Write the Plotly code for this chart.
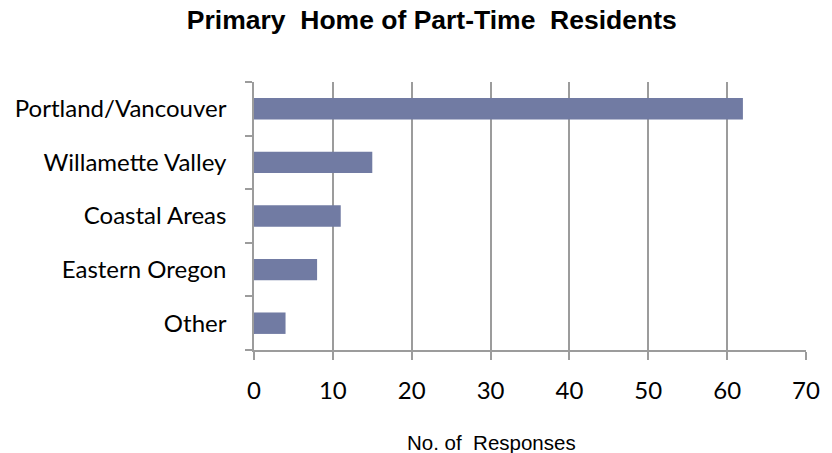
import plotly.graph_objects as go

categories = ["Portland/Vancouver", "Willamette Valley", "Coastal Areas", "Eastern Oregon", "Other"]
responses = [62, 15, 11, 8, 4]
x_ticks = [0, 10, 20, 30, 40, 50, 60, 70]

grid = "#9c9c9c"
label_font = dict(family="Lato, 'Open Sans', sans-serif", size=24, color="black")

fig = go.Figure(go.Bar(
    x=responses, y=categories, orientation="h",
    marker=dict(color="#717ba3", line=dict(width=0)),
    width=0.4,
))

fig.update_layout(
    width=832, height=453,
    margin=dict(l=254, r=26, t=82, b=103),
    paper_bgcolor="white", plot_bgcolor="white",
    showlegend=False,
    title=dict(text="<b>Primary  Home of Part-Time  Residents</b>",
               x=0.519, xanchor="center", y=0.956, yanchor="middle",
               font=dict(family="Arial, 'Liberation Sans', sans-serif", size=26.5, color="black")),
    xaxis=dict(range=[0, 70], tickvals=x_ticks, ticktext=[str(v) for v in x_ticks],
               showgrid=True, gridcolor=grid, gridwidth=1.5,
               showline=True, linecolor=grid, linewidth=1.5,
               ticks="outside", ticklen=8, tickcolor=grid, tickwidth=1.5,
               tickfont=label_font, ticklabelstandoff=10, zeroline=False),
    yaxis=dict(categoryorder="array", categoryarray=categories[::-1],
               showgrid=False, showline=True, linecolor=grid, linewidth=1.5,
               ticks="outside", tickson="boundaries", ticklen=7, tickcolor=grid, tickwidth=1.5,
               tickfont=label_font, ticklabelstandoff=21),
    annotations=[dict(text="No. of  Responses", xref="paper", yref="paper",
                      x=0.431, y=-0.347, xanchor="center", yanchor="middle",
                      showarrow=False,
                      font=dict(family="Arial, 'Liberation Sans', sans-serif", size=20.5, color="black"))],
)

fig.write_html("out.html", config={"displayModeBar": False},
               post_script="document.body.style.margin='0';")
